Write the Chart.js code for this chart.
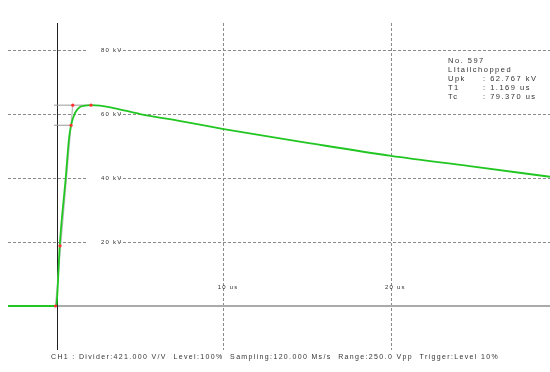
<!DOCTYPE html>
<html>
<head>
<meta charset="utf-8">
<script src="https://cdn.jsdelivr.net/npm/chart.js@4"></script>
<style>
  html, body { margin: 0; padding: 0; background: #fff; }
  #wrap { width: 550px; height: 372px; }
</style>
</head>
<body>
<div id="wrap"><canvas id="scope" width="550" height="372"></canvas></div>
<script>
// waveform (time in us, voltage in kV)
const waveTime = [-2.9, -1.5, -0.05, 0.0, 0.2, 0.55, 0.75, 0.87, 1.1, 1.4, 1.7, 2.06, 2.6, 3.5, 5.0, 7.5, 10, 15, 20, 24.7, 29.5];
const waveKV   = [0, 0, 0, 0.5, 19.5, 40, 52.5, 56.5, 60.3, 62.2, 62.6, 62.77, 62.6, 61.8, 60.0, 57.7, 55.3, 51.0, 46.9, 43.7, 40.4];

// front evaluation helpers (grey lines + red marks)
const frontTime = [-0.06, 0.97];
const frontKV = [0, 62.77];
const peakLineTime = [-0.15, 2.06];
const peakLineKV = [62.77, 62.77];
const level90Time = [-0.15, 0.87];
const level90KV = [56.5, 56.5];
const markTime = [-0.06, 0.21, 0.87, 0.97, 2.06];
const markKV = [0, 18.8, 56.5, 62.77, 62.77];

// axis labels
const yTickValues = [20, 40, 60, 80];
const yTickLabels = ['20 kV', '40 kV', '60 kV', '80 kV'];
const xTickValues = [10, 20];
const xTickLabels = ['10 us', '20 us'];

// info block
const infoLabels = ['No. 597', 'LItailchopped', 'Upk', 'T1', 'Tc'];
const infoValues = ['', '', ': 62.767 kV', ': 1.169 us', ': 79.370 us'];
const footer = 'CH1 : Divider:421.000 V/V  Level:100%  Sampling:120.000 Ms/s  Range:250.0 Vpp  Trigger:Level 10%';

function pts(xs, ys) {
  return xs.map(function(x, i) { return { x: x, y: ys[i] }; });
}

const textColor = '#333';

const scopePlugin = {
  id: 'scopeDecor',
  beforeDatasetsDraw: function(chart) {
    const ctx = chart.ctx;
    const xs = chart.scales.x, ys = chart.scales.y;
    const area = chart.chartArea;
    ctx.save();
    // zero line (grey, solid)
    ctx.strokeStyle = '#aaa';
    ctx.lineWidth = 2;
    ctx.beginPath();
    ctx.moveTo(xs.getPixelForValue(0), ys.getPixelForValue(0));
    ctx.lineTo(area.right, ys.getPixelForValue(0));
    ctx.stroke();
    // vertical axis (black)
    const x0 = Math.round(xs.getPixelForValue(0)) + 0.5;
    ctx.strokeStyle = '#222';
    ctx.lineWidth = 1;
    ctx.beginPath();
    ctx.moveTo(x0, area.top);
    ctx.lineTo(x0, area.bottom);
    ctx.stroke();

    // y labels sitting on the dashed lines
    ctx.font = '6px "Liberation Sans", Arial, sans-serif';
    ctx.letterSpacing = '1.2px';
    ctx.textBaseline = 'middle';
    ctx.textAlign = 'left';
    yTickValues.forEach(function(v, i) {
      const py = ys.getPixelForValue(v);
      ctx.fillStyle = '#fff';
      ctx.fillRect(88, py - 2, 32, 4);
      ctx.fillStyle = textColor;
      ctx.fillText(yTickLabels[i], 101, py);
    });
    // x labels
    xTickValues.forEach(function(v, i) {
      const px = xs.getPixelForValue(v);
      ctx.fillStyle = textColor;
      ctx.fillText(xTickLabels[i], px - 6, 287);
    });
    ctx.restore();
  },
  afterDraw: function(chart) {
    const ctx = chart.ctx;
    ctx.save();
    ctx.fillStyle = textColor;
    ctx.textBaseline = 'middle';
    ctx.textAlign = 'left';
    ctx.font = '7.5px "Liberation Sans", Arial, sans-serif';
    ctx.letterSpacing = '1.5px';
    infoLabels.forEach(function(lbl, i) {
      const y = 61 + i * 9;
      ctx.fillText(lbl, 448, y);
      if (infoValues[i]) ctx.fillText(infoValues[i], 483, y);
    });
    ctx.font = '7px "Liberation Sans", Arial, sans-serif';
    ctx.letterSpacing = '1.35px';
    ctx.fillText(footer, 51, 357);
    ctx.restore();
  }
};

const ctx = document.getElementById('scope').getContext('2d');
new Chart(ctx, {
  type: 'line',
  data: {
    datasets: [
      {
        label: 'marks',
        data: pts(markTime, markKV),
        showLine: false,
        pointRadius: 1.6,
        pointBackgroundColor: '#ff3030',
        pointBorderWidth: 0,
        order: 0
      },
      {
        label: 'wave',
        data: pts(waveTime, waveKV),
        borderColor: '#22c622',
        borderWidth: 1.8,
        pointRadius: 0,
        cubicInterpolationMode: 'monotone',
        order: 1
      },
      {
        label: 'front',
        data: pts(frontTime, frontKV),
        borderColor: '#bbb',
        borderWidth: 1.2,
        pointRadius: 0,
        order: 2
      },
      {
        label: 'peak',
        data: pts(peakLineTime, peakLineKV),
        borderColor: '#999',
        borderWidth: 1,
        pointRadius: 0,
        order: 3
      },
      {
        label: 'level90',
        data: pts(level90Time, level90KV),
        borderColor: '#999',
        borderWidth: 1,
        pointRadius: 0,
        order: 3
      }
    ]
  },
  options: {
    responsive: false,
    animation: false,
    events: [],
    layout: { autoPadding: false, padding: { left: 8, top: 23, right: 0, bottom: 22 } },
    plugins: { legend: { display: false }, tooltip: { enabled: false } },
    scales: {
      x: {
        type: 'linear',
        min: -2.9,
        max: 29.5,
        ticks: { display: false, stepSize: 10, includeBounds: false },
        border: { display: false, dash: [3, 2] },
        grid: {
          drawTicks: false,
          color: function(c) { return c.tick && c.tick.value === 0 ? 'rgba(0,0,0,0)' : '#8a8a8a'; },
          lineWidth: 1
        }
      },
      y: {
        type: 'linear',
        min: -13.75,
        max: 88.45,
        ticks: { display: false, stepSize: 20, includeBounds: false },
        border: { display: false, dash: [3, 2] },
        grid: {
          drawTicks: false,
          color: function(c) { return c.tick && c.tick.value === 0 ? 'rgba(0,0,0,0)' : '#8a8a8a'; },
          lineWidth: 1
        }
      }
    }
  },
  plugins: [scopePlugin]
});
</script>
</body>
</html>
